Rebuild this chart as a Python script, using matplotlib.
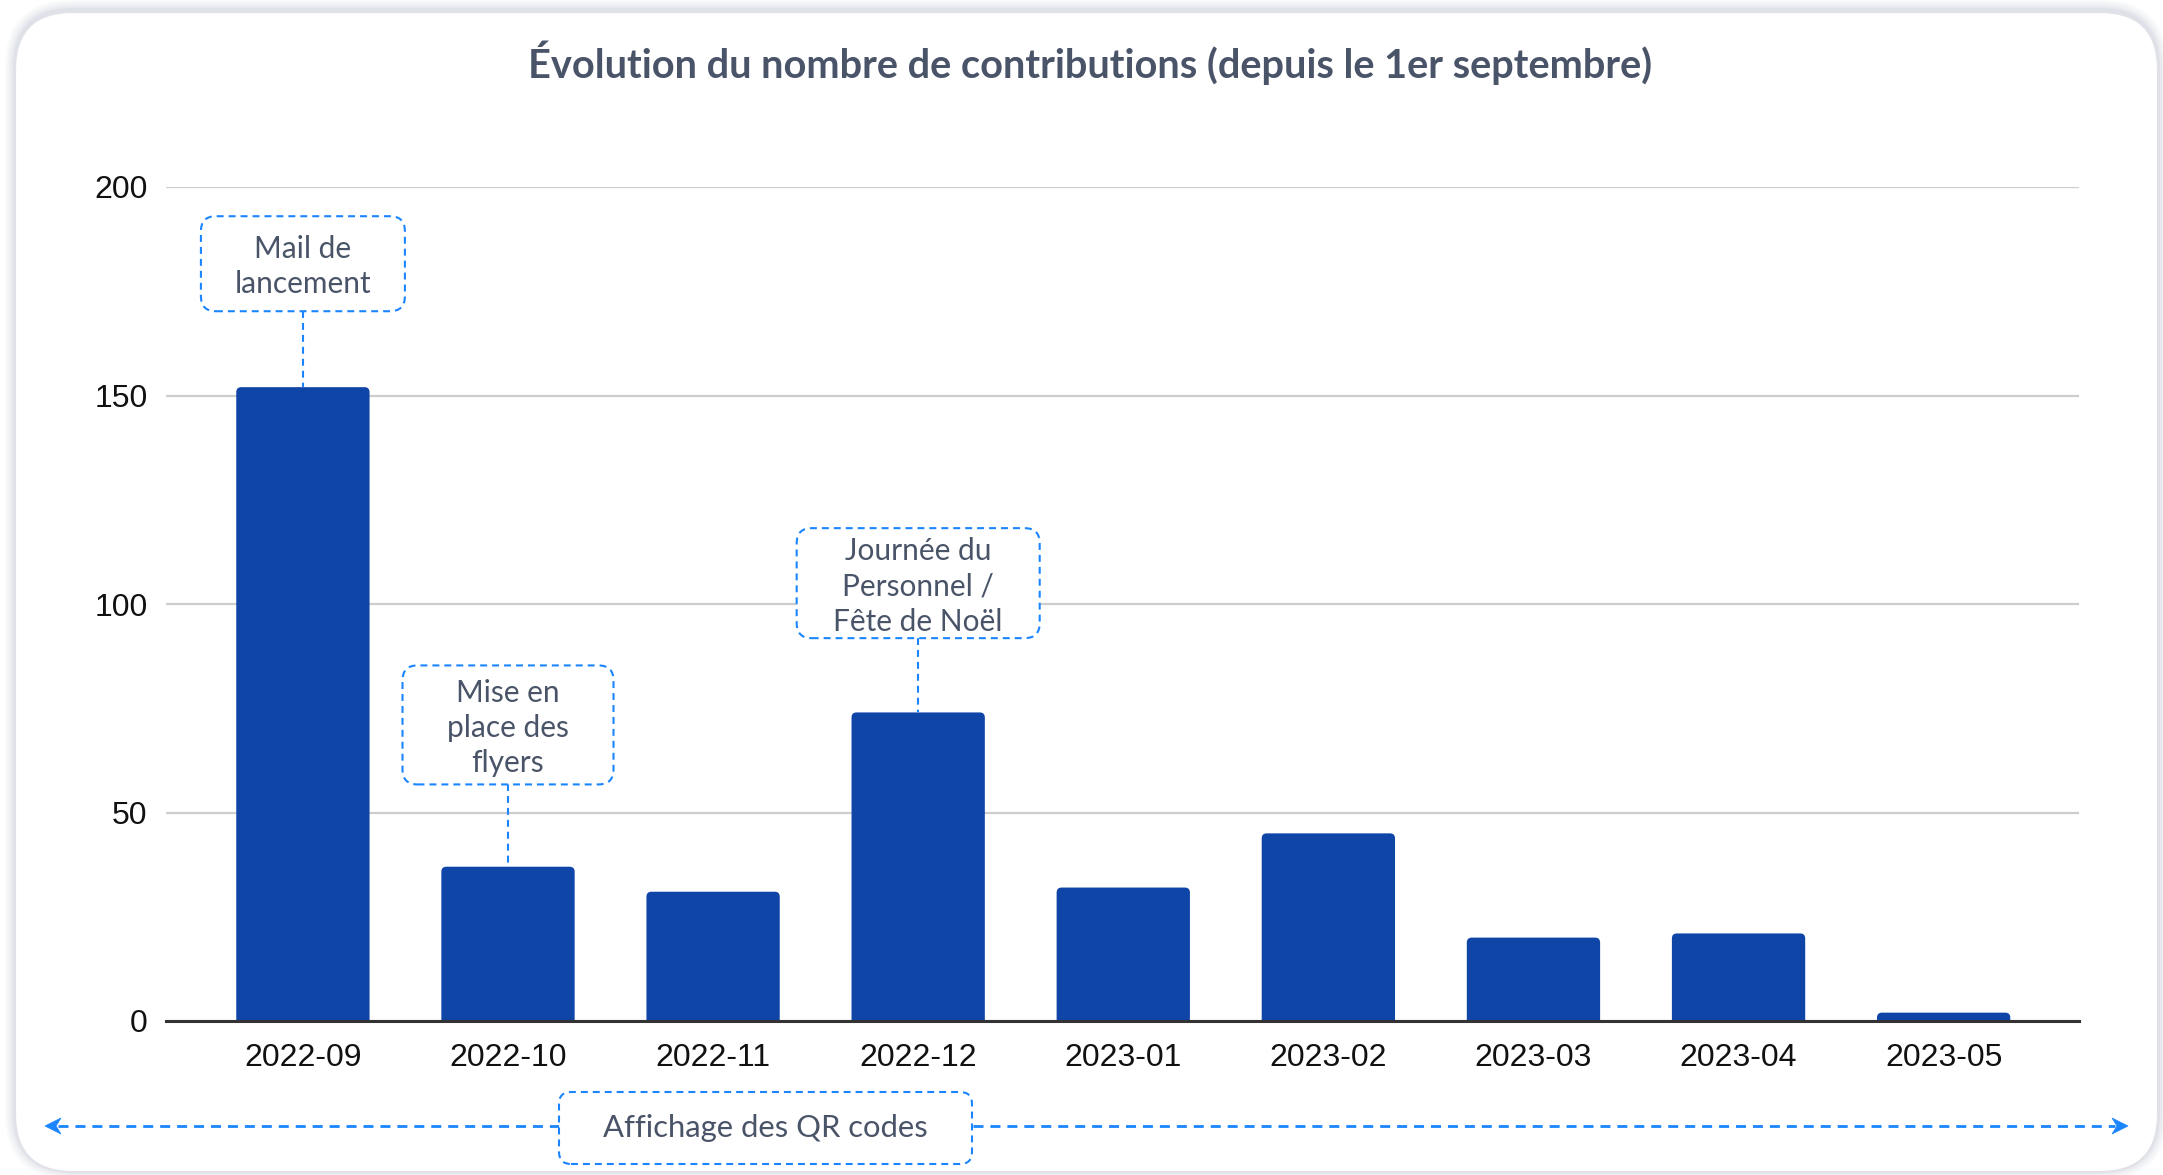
import matplotlib
matplotlib.use("Agg")
import matplotlib.pyplot as plt
from matplotlib.patches import FancyBboxPatch, Polygon
from matplotlib.lines import Line2D
from matplotlib.transforms import IdentityTransform

# ---------------- data ----------------
months = ["2022-09", "2022-10", "2022-11", "2022-12", "2023-01",
          "2023-02", "2023-03", "2023-04", "2023-05"]
contributions = [152, 37, 31, 74, 32, 45, 20, 21, 2]
y_ticks = [0, 50, 100, 150, 200]

title = "Évolution du nombre de contributions (depuis le 1er septembre)"
event_bars = [0, 1, 3]
event_labels = ["Mail de\nlancement", "Mise en\nplace des\nflyers",
                "Journée du\nPersonnel /\nFête de Noël"]
period_label = "Affichage des QR codes"

# ---------------- style ----------------
W, H = 2163, 1175
BAR = "#1045A8"
BLUE = "#1A85FF"
TXT = "#4A5468"
plt.rcParams["lines.scale_dashes"] = False

fig = plt.figure(figsize=(W / 100, H / 100), dpi=100)
fig.patch.set_facecolor("white")
ID = IdentityTransform()


def ytop(y):
    return H - y


# card with soft shadow
cx0, cx1, cy_top, cy_bot = 15, 2158, 12, 1172
for i, a in enumerate([0.05, 0.05, 0.06, 0.08, 0.10]):
    g = 10 - 2 * i
    card_sh = FancyBboxPatch((cx0 - g, ytop(cy_bot) - g + 2), cx1 - cx0 + 2 * g,
                             cy_bot - cy_top + 2 * g,
                             boxstyle="round,pad=0,rounding_size=%d" % (58 + g),
                             transform=ID, fc="#9aa0b4", ec="none", alpha=a, zorder=0)
    fig.add_artist(card_sh)
card = FancyBboxPatch((cx0, ytop(cy_bot)), cx1 - cx0, cy_bot - cy_top,
                      boxstyle="round,pad=0,rounding_size=58",
                      transform=ID, fc="white", ec="#e1e2e8", lw=1.5, zorder=0.5)
fig.add_artist(card)

# axes
ax = fig.add_axes([165.5 / W, (H - 1021) / H, (2079 - 165.5) / W, (1021 - 187) / H])
ax.set_zorder(2)
ax.set_facecolor("none")
x = list(range(len(months)))
ax.set_xlim(-0.67, 8.66)
ax.set_ylim(0, 200)

bars = ax.bar(x, contributions, width=0.65, color=BAR, zorder=3)

# rounded tops
p0 = ax.transData.transform((0, 0))
p1 = ax.transData.transform((1, 1))
px_x = p1[0] - p0[0]
px_y = p1[1] - p0[1]
aspect = px_x / px_y
for r in bars:
    r.set_visible(False)
    ext = 3.0
    fb = FancyBboxPatch((r.get_x(), r.get_y() - ext), r.get_width(), r.get_height() + ext,
                        boxstyle="round,pad=0,rounding_size=%f" % (5 / px_x),
                        mutation_aspect=aspect, fc=BAR, ec="none", zorder=3)
    ax.add_patch(fb)

ax.set_yticks(y_ticks)
ax.set_xticks(x)
ax.set_xticklabels(months)
for s in ax.spines.values():
    s.set_visible(False)
ax.grid(axis="y", color="#cdcdcd", lw=1.6, zorder=0)
ax.set_axisbelow(True)
ax.axhline(0, color="#333333", lw=2.2, zorder=4, clip_on=False)
ax.tick_params(length=0, labelsize=23, labelcolor="#111111")
ax.tick_params(axis="y", pad=13)
ax.tick_params(axis="x", pad=16)
for lab in ax.get_xticklabels() + ax.get_yticklabels():
    lab.set_fontfamily("Liberation Sans")

# title
fig.text(1090 / W, ytop(63) / H, title, ha="center", va="center",
         fontsize=28.6, fontweight="bold", color=TXT, fontfamily="Lato", zorder=7)

# event annotations
box_center_y = [181.6, 71.0, 105.0]
box_w = [204, 211, 243]
box_h = [95, 119, 110]
dash = (0, (5, 3.6))
for bi, lab, yc, bw, bh in zip(event_bars, event_labels, box_center_y, box_w, box_h):
    cx = ax.transData.transform((bi, 0))[0]
    cy = ax.transData.transform((0, yc))[1]
    top_bar = ax.transData.transform((0, contributions[bi]))[1]
    fig.add_artist(Line2D([cx, cx], [cy - bh / 2, top_bar], transform=ID,
                          color=BLUE, lw=1.5, ls=dash, zorder=5))
    fig.add_artist(FancyBboxPatch((cx - bw / 2, cy - bh / 2), bw, bh,
                                  boxstyle="round,pad=0,rounding_size=15",
                                  transform=ID, fc="white", ec=BLUE, lw=1.5,
                                  ls=dash, zorder=6))
    fig.text(cx, cy - 3, lab, transform=ID, ha="center", va="center",
             fontsize=21.5, color=TXT, fontfamily="Lato", linespacing=1.32,
             zorder=7)

# period arrow
ay = ytop(1126)
fig.add_artist(Line2D([58, 2115], [ay, ay], transform=ID, color=BLUE, lw=2.0,
                      ls=(0, (7.2, 5)), zorder=5))
for tip, d in [(45, 1), (2128, -1)]:
    fig.add_artist(Polygon([(tip, ay), (tip + d * 16, ay + 8), (tip + d * 11, ay),
                            (tip + d * 16, ay - 8)], closed=True, transform=ID,
                           fc=BLUE, ec=BLUE, lw=0.5, zorder=6))
bx0, bx1, by0, by1 = 559, 972, 1092, 1164
fig.add_artist(FancyBboxPatch((bx0, ytop(by1)), bx1 - bx0, by1 - by0,
                              boxstyle="round,pad=0,rounding_size=12",
                              transform=ID, fc="white", ec=BLUE, lw=1.5,
                              ls=dash, zorder=6))
fig.text((bx0 + bx1) / 2, ytop(1128), period_label, transform=ID,
         ha="center", va="center", fontsize=22.3, color=TXT, fontfamily="Lato",
         zorder=7)

fig.savefig("out.png", dpi=100, facecolor="white")
